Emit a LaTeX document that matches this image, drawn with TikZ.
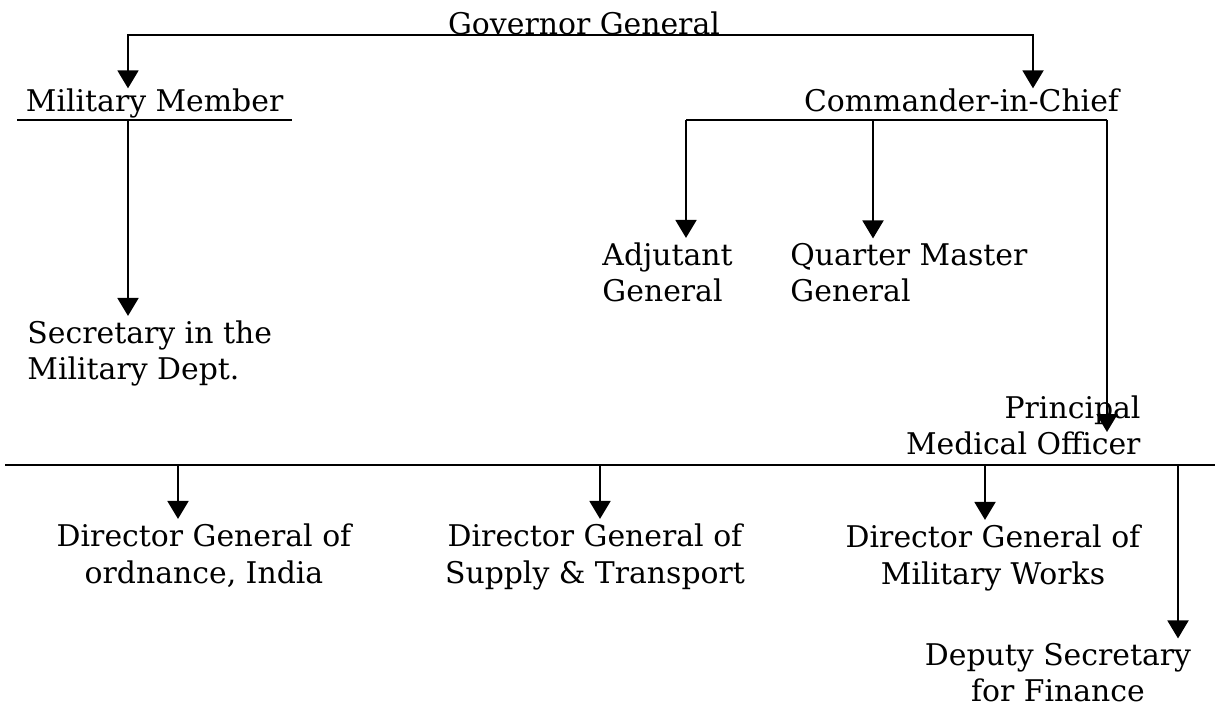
\documentclass[tikz,border=0pt]{standalone}
\usepackage{fontspec}
\setmainfont{DejaVu Serif}
\usepackage{tikz}
\usetikzlibrary{arrows.meta}

\tikzset{
  poste/.style={inner sep=2pt, font=\fontsize{17}{21}\selectfont},
  fleche/.style={-{Triangle[length=0.36cm,width=0.42cm]}},
}

\begin{document}
\begin{tikzpicture}[x=0.02cm,y=-0.02cm,line width=1.1pt]
\useasboundingbox (0,0) rectangle (1218,709);
% postes
\node[poste, anchor=base] (gg) at (584,35) {Governor General};
\node[poste, anchor=base west, inner xsep=0.16cm, inner ysep=0pt, text depth=0.14cm] (mm) at (17,112) {Military Member};
\node[poste, anchor=base east, inner sep=0pt] (cic) at (1120,112) {Commander-in-Chief};
\node[poste, anchor=base west, align=left] (adj) at (598,302) {Adjutant\\General};
\node[poste, anchor=base west, align=left] (qmg) at (786,302) {Quarter Master\\General};
\node[poste, anchor=base west, align=left] (sec) at (23,380) {Secretary in the\\Military Dept.};
\node[poste, anchor=base east, align=right] (pmo) at (1145,455) {Principal\\Medical Officer};
\node[poste, anchor=base, align=center] (dg1) at (204,583) {Director General of\\ordnance, India};
\node[poste, anchor=base, align=center] (dg2) at (595,583) {Director General of\\Supply \& Transport};
\node[poste, anchor=base, align=center] (dg3) at (993,584) {Director General of\\Military Works};
\node[poste, anchor=base, align=center] (dsf) at (1058,702) {Deputy Secretary\\for Finance};
% colonnes des fleches
\coordinate (xmm) at (128,0);
\coordinate (xcic) at (1033,0);
\coordinate (xadj) at (686,0);
\coordinate (xqmg) at (873,0);
\coordinate (xpmo) at (1107,0);
\coordinate (xdg1) at (178,0);
\coordinate (xdg2) at (600,0);
\coordinate (xdg3) at (985,0);
\coordinate (xdsf) at (1178,0);
\coordinate (cbar) at (0,120);
\coordinate (barL) at (5,465);
\coordinate (barR) at (1215,465);
\coordinate (pmotip) at (1107,432);
% liaisons
\draw[fleche] (gg.base) -| (mm.north -| xmm);
\draw[fleche] (gg.base) -| (cic.north -| xcic);
\draw (mm.south west) -- (mm.south east);
\draw[fleche] (mm.south -| xmm) -- (sec.north -| xmm);
\draw (xadj |- cbar) -- (xpmo |- cbar);
\draw[fleche] (xadj |- cbar) -- (adj.north -| xadj);
\draw[fleche] (xqmg |- cbar) -- (qmg.north -| xqmg);
\draw[fleche] (xpmo |- cbar) -- (pmotip);
\draw (barL) -- (barR);
\draw[fleche] (xdg1 |- barL) -- (dg1.north -| xdg1);
\draw[fleche] (xdg2 |- barL) -- (dg2.north -| xdg2);
\draw[fleche] (xdg3 |- barL) -- (dg3.north -| xdg3);
\draw[fleche] (xdsf |- barL) -- (dsf.north -| xdsf);
\end{tikzpicture}
\end{document}
